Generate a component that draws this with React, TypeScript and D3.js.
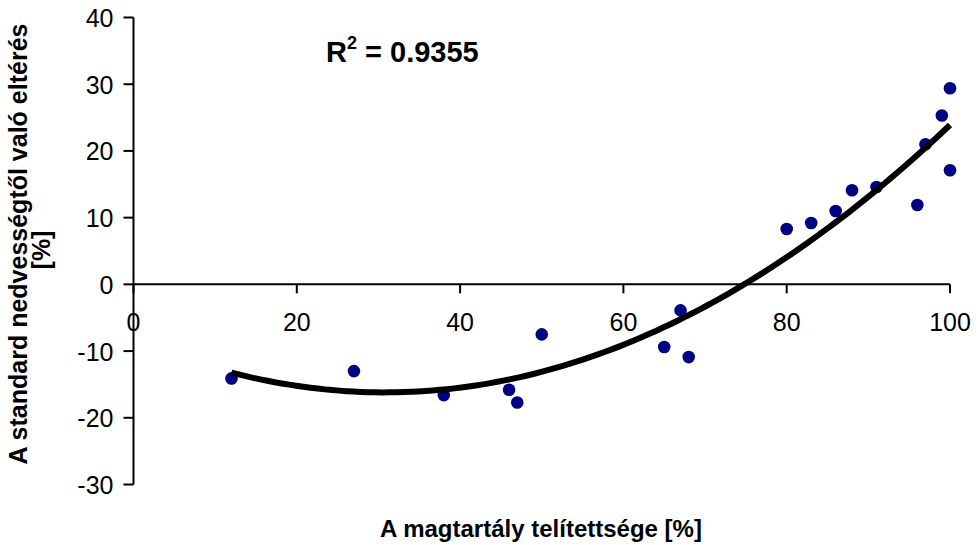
import React from "react";
import * as d3 from "d3";

const xValues = [12, 27, 38, 46, 47, 50, 65, 67, 68, 80, 83, 86, 88, 91, 96, 97, 99, 100, 100];
const yValues = [-14.1, -13.0, -16.6, -15.8, -17.7, -7.5, -9.4, -3.9, -10.9, 8.3, 9.2, 11.0, 14.1, 14.6, 11.9, 21.0, 25.3, 29.4, 17.1];
const xTicks = [0, 20, 40, 60, 80, 100];
const yTicks = [-30, -20, -10, 0, 10, 20, 30, 40];
const rSquaredLabel = "0.9355";

function quadFit(xs: number[], ys: number[]) {
  let s0 = 0, s1 = 0, s2 = 0, s3 = 0, s4 = 0, t0 = 0, t1 = 0, t2 = 0;
  xs.forEach((x, i) => {
    const y = ys[i];
    s0 += 1; s1 += x; s2 += x * x; s3 += x ** 3; s4 += x ** 4;
    t0 += y; t1 += x * y; t2 += x * x * y;
  });
  const M = [
    [s0, s1, s2, t0],
    [s1, s2, s3, t1],
    [s2, s3, s4, t2],
  ];
  for (let i = 0; i < 3; i++) {
    for (let j = i + 1; j < 3; j++) {
      const f = M[j][i] / M[i][i];
      for (let k = i; k < 4; k++) M[j][k] -= f * M[i][k];
    }
  }
  const c = M[2][3] / M[2][2];
  const b = (M[1][3] - M[1][2] * c) / M[1][1];
  const a = (M[0][3] - M[0][1] * b - M[0][2] * c) / M[0][0];
  return (x: number) => a + b * x + c * x * x;
}

export default function App() {
  const W = 979, H = 545;
  const x = d3.scaleLinear().domain([0, 100]).range([133.5, 950]);
  const y = d3.scaleLinear().domain([-30, 40]).range([484.5, 17.5]);
  const f = quadFit(xValues, yValues);
  const xmin = d3.min(xValues)!, xmax = d3.max(xValues)!;
  const trendPts = d3.range(0, 101).map((i) => xmin + ((xmax - xmin) * i) / 100);
  const line = d3.line<number>().x((d) => x(d)).y((d) => y(f(d)));
  const font = "Arial, 'Liberation Sans', sans-serif";
  return (
    <svg width={W} height={H} style={{ position: "absolute", left: 0, top: 0, background: "#fff" }}
      fontFamily={font}>
      <line x1={x(0)} x2={x(0)} y1={y(40)} y2={y(-30)} stroke="#000" strokeWidth={2} />
      {yTicks.map((t) => (
        <g key={t}>
          <line x1={x(0) - 10} x2={x(0)} y1={y(t)} y2={y(t)} stroke="#000" strokeWidth={2} />
          <text x={x(0) - 20} y={y(t)} dy="0.38em" textAnchor="end" fontSize={25}>{t}</text>
        </g>
      ))}
      <line x1={x(0)} x2={x(100)} y1={y(0)} y2={y(0)} stroke="#000" strokeWidth={2} />
      {xTicks.map((t) => (
        <g key={t}>
          <line x1={x(t)} x2={x(t)} y1={y(0)} y2={y(0) + 9} stroke="#000" strokeWidth={2} />
          <text x={x(t)} y={y(0) + 47} textAnchor="middle" fontSize={25}>{t}</text>
        </g>
      ))}
      {xValues.map((xv, i) => (
        <circle key={i} cx={x(xv)} cy={y(yValues[i])} r={6.3} fill="#000080" />
      ))}
      <path d={line(trendPts) || ""} fill="none" stroke="#000" strokeWidth={6} />
      <text x={326} y={62} fontSize={29} fontWeight="bold">
        R<tspan dy={-13} fontSize={18}>2</tspan><tspan dy={13}> = {rSquaredLabel}</tspan>
      </text>
      <text x={541} y={537} textAnchor="middle" fontSize={24} fontWeight="bold">
        A magtartály telítettsége [%]
      </text>
      <text transform="translate(27,244) rotate(-90)" textAnchor="middle" fontSize={25} fontWeight="bold">
        A standard nedvességtől való eltérés
      </text>
      <text transform="translate(50,250) rotate(-90)" textAnchor="middle" fontSize={25} fontWeight="bold">
        [%]
      </text>
    </svg>
  );
}
